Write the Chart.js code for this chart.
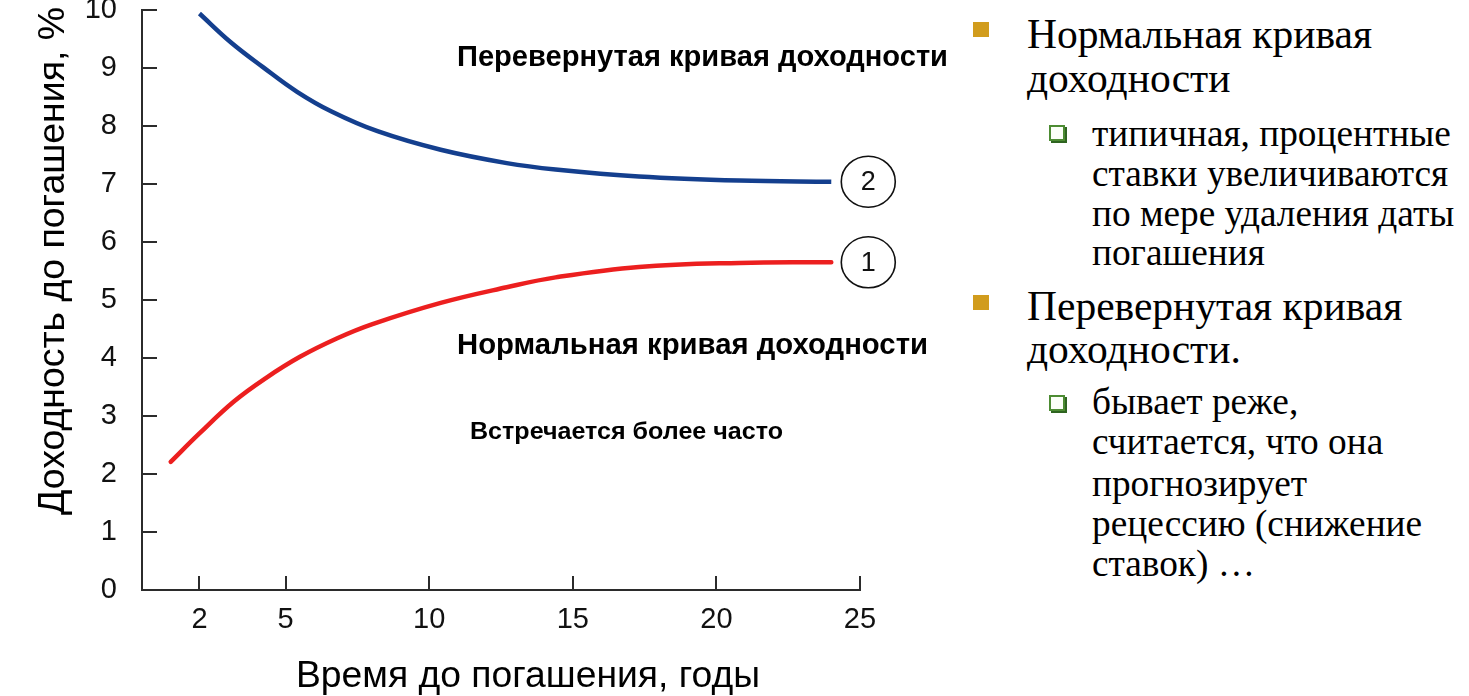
<!DOCTYPE html>
<html lang="ru">
<head>
<meta charset="utf-8">
<script src="https://cdn.jsdelivr.net/npm/chart.js@4.4.1/dist/chart.umd.min.js"></script>
<style>
  html, body { margin: 0; padding: 0; background: #fff; }
  body { width: 1469px; height: 696px; position: relative; overflow: hidden; }
  #chartBox { position: absolute; left: 0; top: 0; width: 960px; height: 696px; }
  .ln { position: absolute; white-space: nowrap; font-family: "Liberation Serif", "Times New Roman", serif; color: #000; line-height: 1; }
  .main { font-size: 41.5px; }
  .sub { font-size: 37.3px; }
  .sq { position: absolute; width: 16px; height: 15px; background: #d19c1d; }
  .box { position: absolute; width: 12px; height: 12px; border: 2px solid #4d8c33; background: #fbfff8; box-shadow: 2px 2px 0 #2e6420; }
</style>
</head>
<body>
<div id="chartBox"><canvas id="yieldChart"></canvas></div>

<div class="sq" style="left:973px; top:22px"></div>
<div class="ln main" id="m1a">Нормальная кривая</div>
<div class="ln main" id="m1b">доходности</div>
<div class="box" style="left:1049px; top:125px"></div>
<div class="ln sub" id="s1a">типичная, процентные</div>
<div class="ln sub" id="s1b">ставки увеличиваются</div>
<div class="ln sub" id="s1c">по мере удаления даты</div>
<div class="ln sub" id="s1d">погашения</div>

<div class="sq" style="left:973px; top:295px"></div>
<div class="ln main" id="m2a">Перевернутая кривая</div>
<div class="ln main" id="m2b">доходности.</div>
<div class="box" style="left:1049px; top:395px"></div>
<div class="ln sub" id="s2a">бывает реже,</div>
<div class="ln sub" id="s2b">считается, что она</div>
<div class="ln sub" id="s2c">прогнозирует</div>
<div class="ln sub" id="s2d">рецессию (снижение</div>
<div class="ln sub" id="s2e">ставок) …</div>

<script>
// Нормальная кривая (1)
const yearsNormal = [1, 2, 3.2, 4.3, 5.5, 6.8, 8, 10.4, 12.7, 14.4, 17.3, 20.8, 24];
const yieldNormal = [2.21, 2.70, 3.25, 3.65, 4.02, 4.34, 4.58, 4.95, 5.22, 5.39, 5.57, 5.64, 5.65];

// Перевернутая кривая (2)
const yearsInverted = [2, 3.1, 4.2, 5.4, 6.6, 8.2, 10.4, 12.7, 14.4, 17.3, 20.8, 24];
const yieldInverted = [9.94, 9.44, 9.02, 8.59, 8.25, 7.91, 7.59, 7.36, 7.25, 7.13, 7.06, 7.04];

const xTicks = [2, 5, 10, 15, 20, 25];
const curveNums = ['1', '2'];

const axisColor = '#2b2b2b';
const SANS = '"Liberation Sans", Arial, sans-serif';

// строки справа: [id, left, baseline]
const rightLines = [
  ['m1a', 1027, 49], ['m1b', 1027, 93],
  ['s1a', 1092, 146], ['s1b', 1092, 186], ['s1c', 1092, 226], ['s1d', 1092, 265],
  ['m2a', 1027, 321], ['m2b', 1027, 364],
  ['s2a', 1092, 414], ['s2b', 1092, 454], ['s2c', 1092, 496], ['s2d', 1092, 536], ['s2e', 1092, 576]
];
rightLines.forEach(([id, left, base]) => {
  const el = document.getElementById(id);
  const fs = parseFloat(getComputedStyle(el).fontSize);
  el.style.left = left + 'px';
  el.style.top = (base - fs * 0.8375) + 'px';
});

function toPoints(xs, ys) {
  return xs.map((x, i) => ({ x: x, y: ys[i] }));
}

// текст с подгонкой по ширине
function fitText(ctx, text, x, y, font, width) {
  ctx.save();
  ctx.font = font;
  const w = ctx.measureText(text).width;
  ctx.translate(x, y);
  if (width) ctx.scale(width / w, 1);
  ctx.fillText(text, 0, 0);
  ctx.restore();
}

const decor = {
  id: 'decor',
  afterDraw(chart) {
    const { ctx, chartArea: a, scales: { x, y } } = chart;
    ctx.save();
    ctx.strokeStyle = axisColor;
    ctx.lineWidth = 2;
    // засечки внутрь
    y.ticks.forEach(t => {
      if (t.value === 0) return;
      const py = Math.round(y.getPixelForValue(t.value));
      ctx.beginPath(); ctx.moveTo(a.left, py); ctx.lineTo(a.left + 15, py); ctx.stroke();
    });
    x.ticks.forEach(t => {
      const px = Math.round(x.getPixelForValue(t.value));
      ctx.beginPath(); ctx.moveTo(px, a.bottom); ctx.lineTo(px, a.bottom - 14); ctx.stroke();
    });

    // кружки с номерами кривых
    chart.data.datasets.forEach((ds, i) => {
      const pts = chart.getDatasetMeta(i).data;
      const last = pts[pts.length - 1];
      const cx = last.x + 37, cy = last.y;
      ctx.beginPath();
      ctx.ellipse(cx, cy, 27, 25.5, 0, 0, Math.PI * 2);
      ctx.lineWidth = 1.6;
      ctx.strokeStyle = '#111';
      ctx.stroke();
      ctx.fillStyle = '#111';
      ctx.font = '27px ' + SANS;
      ctx.textAlign = 'center';
      ctx.textBaseline = 'middle';
      ctx.fillText(ds.num, cx, cy + 1);
    });

    // подписи
    ctx.fillStyle = '#000';
    ctx.textAlign = 'left';
    ctx.textBaseline = 'alphabetic';
    fitText(ctx, 'Перевернутая кривая доходности', 457, 66, 'bold 29px ' + SANS, 491);
    fitText(ctx, 'Нормальная кривая доходности', 457, 354, 'bold 29px ' + SANS, 471);
    fitText(ctx, 'Встречается более часто', 470, 439, 'bold 24px ' + SANS, 313);

    // названия осей
    ctx.textAlign = 'center';
    fitText(ctx, 'Время до погашения, годы', 528, 687, '36px ' + SANS, 464);
    ctx.save();
    ctx.translate(64, 261);
    ctx.rotate(-Math.PI / 2);
    fitText(ctx, 'Доходность до погашения, %', 0, 0, '37px ' + SANS, 508);
    ctx.restore();
    ctx.restore();
  }
};

new Chart(document.getElementById('yieldChart'), {
  type: 'line',
  data: {
    datasets: [
      {
        label: 'Нормальная кривая доходности',
        num: curveNums[0],
        data: toPoints(yearsNormal, yieldNormal),
        borderColor: '#ec1f1f',
        borderWidth: 4.5,
        borderCapStyle: 'round',
        pointRadius: 0,
        tension: 0.4,
        fill: false
      },
      {
        label: 'Перевернутая кривая доходности',
        num: curveNums[1],
        data: toPoints(yearsInverted, yieldInverted),
        borderColor: '#143f8e',
        borderWidth: 4.5,
        borderCapStyle: 'butt',
        pointRadius: 0,
        tension: 0.4,
        fill: false
      }
    ]
  },
  options: {
    responsive: true,
    maintainAspectRatio: false,
    animation: false,
    layout: { padding: { top: 10, right: 100, bottom: 0, left: 0 } },
    plugins: { legend: { display: false }, tooltip: { enabled: false } },
    scales: {
      x: {
        type: 'linear',
        min: 0,
        max: 25,
        afterBuildTicks: s => { s.ticks = xTicks.map(v => ({ value: v })); },
        afterFit: s => { s.height = 106; s.paddingLeft = 0; s.paddingRight = 0; },
        grid: { display: false },
        border: { display: true, color: axisColor, width: 2 },
        ticks: { color: '#111', padding: 5, font: { family: SANS, size: 29 } }
      },
      y: {
        min: 0,
        max: 10,
        afterFit: s => { s.width = 142; s.paddingTop = 0; s.paddingBottom = 0; },
        grid: { display: false },
        border: { display: true, color: axisColor, width: 2 },
        ticks: { stepSize: 1, color: '#111', padding: 17, font: { family: SANS, size: 29 } }
      }
    }
  },
  plugins: [decor]
});
</script>
</body>
</html>
